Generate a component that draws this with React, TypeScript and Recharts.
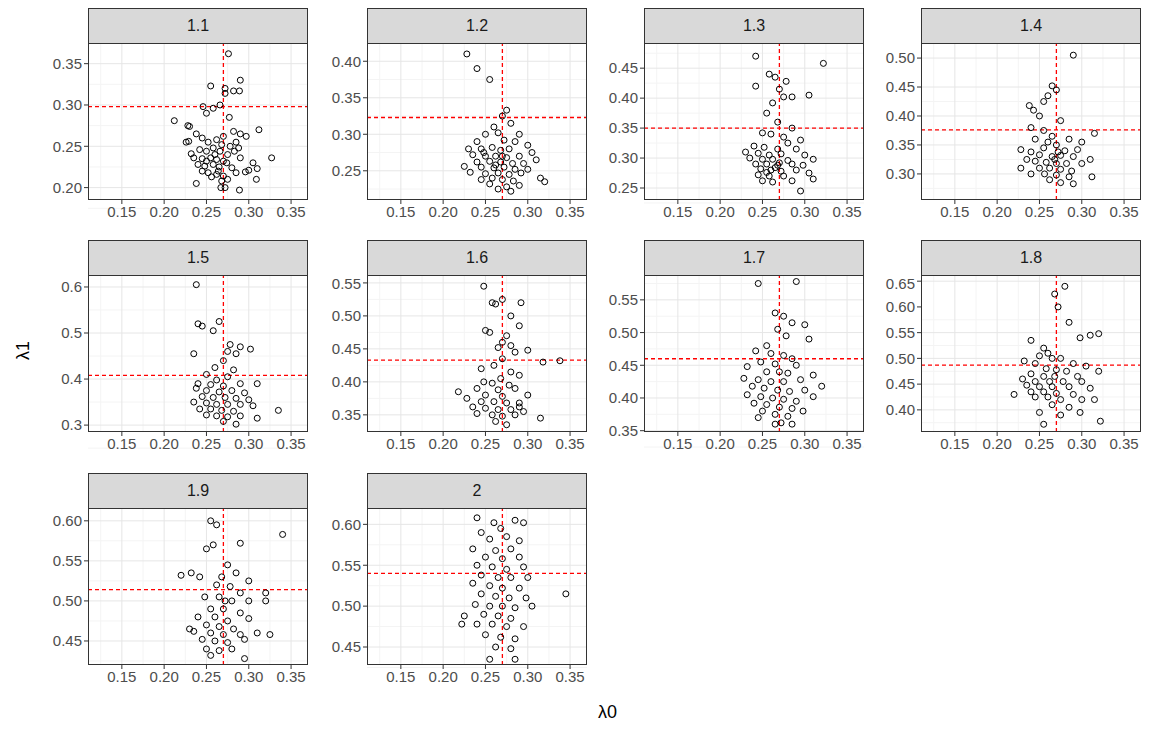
import { ScatterChart, Scatter, XAxis, YAxis, CartesianGrid, ReferenceLine } from "recharts";

type Pt = [number, number];

const facetLabels = ["1.1", "1.2", "1.3", "1.4", "1.5", "1.6", "1.7", "1.8", "1.9", "2"];
const xTicks = [0.15, 0.2, 0.25, 0.3, 0.35];
const xMinor = [0.125, 0.175, 0.225, 0.275, 0.325];
const trueX = 0.27;
const trueY = [0.298, 0.323, 0.35, 0.376, 0.408, 0.433, 0.46, 0.487, 0.514, 0.54];
const yDomains: [number, number][] = [
  [0.185, 0.375], [0.21, 0.425], [0.23, 0.492], [0.255, 0.526], [0.285, 0.626],
  [0.324, 0.562], [0.348, 0.588], [0.357, 0.662], [0.42, 0.616], [0.428, 0.62],
];
const yTicks: number[][] = [
  [0.2, 0.25, 0.3, 0.35], [0.25, 0.3, 0.35, 0.4], [0.25, 0.3, 0.35, 0.4, 0.45],
  [0.3, 0.35, 0.4, 0.45, 0.5], [0.3, 0.4, 0.5, 0.6], [0.35, 0.4, 0.45, 0.5, 0.55],
  [0.35, 0.4, 0.45, 0.5, 0.55], [0.4, 0.45, 0.5, 0.55, 0.6, 0.65],
  [0.45, 0.5, 0.55, 0.6], [0.45, 0.5, 0.55, 0.6],
];
const yDecimals = [2, 2, 2, 2, 1, 2, 2, 2, 2, 2];

const p11: Pt[] = [
  [0.276, 0.362], [0.255, 0.323], [0.272, 0.32], [0.29, 0.33], [0.282, 0.317], [0.289, 0.317], [0.272, 0.314],
  [0.246, 0.298], [0.258, 0.296], [0.266, 0.3], [0.25, 0.29], [0.277, 0.285], [0.212, 0.281], [0.228, 0.275],
  [0.23, 0.274], [0.238, 0.265], [0.245, 0.26], [0.282, 0.268], [0.29, 0.265], [0.297, 0.262], [0.312, 0.27],
  [0.226, 0.255], [0.229, 0.256], [0.252, 0.255], [0.262, 0.258], [0.27, 0.262], [0.285, 0.255], [0.278, 0.25],
  [0.288, 0.248], [0.232, 0.241], [0.242, 0.246], [0.25, 0.244], [0.258, 0.248], [0.266, 0.244], [0.275, 0.24],
  [0.283, 0.244], [0.245, 0.235], [0.255, 0.236], [0.262, 0.234], [0.27, 0.232], [0.29, 0.236], [0.327, 0.236],
  [0.24, 0.228], [0.248, 0.226], [0.258, 0.228], [0.265, 0.225], [0.274, 0.23], [0.28, 0.224], [0.305, 0.23],
  [0.31, 0.223], [0.252, 0.218], [0.262, 0.216], [0.27, 0.214], [0.285, 0.218], [0.296, 0.219], [0.3, 0.221],
  [0.245, 0.22], [0.256, 0.213], [0.268, 0.208], [0.275, 0.21], [0.238, 0.205], [0.309, 0.21], [0.267, 0.2],
  [0.272, 0.2], [0.289, 0.197], [0.26, 0.24], [0.268, 0.252], [0.235, 0.236], [0.25, 0.232], [0.264, 0.22],
];
const p12: Pt[] = [
  [0.228, 0.41], [0.24, 0.39], [0.255, 0.375], [0.275, 0.333], [0.27, 0.325], [0.28, 0.315], [0.26, 0.31],
  [0.25, 0.3], [0.265, 0.302], [0.29, 0.3], [0.24, 0.29], [0.272, 0.292], [0.285, 0.29], [0.3, 0.285],
  [0.23, 0.28], [0.245, 0.28], [0.258, 0.282], [0.268, 0.278], [0.278, 0.28], [0.305, 0.275], [0.235, 0.272],
  [0.25, 0.27], [0.262, 0.27], [0.275, 0.268], [0.29, 0.27], [0.31, 0.265], [0.24, 0.262], [0.255, 0.263],
  [0.268, 0.262], [0.282, 0.26], [0.295, 0.26], [0.225, 0.256], [0.245, 0.255], [0.26, 0.254], [0.272, 0.255],
  [0.285, 0.252], [0.3, 0.252], [0.232, 0.248], [0.25, 0.246], [0.265, 0.247], [0.278, 0.245], [0.292, 0.247],
  [0.315, 0.24], [0.245, 0.238], [0.258, 0.24], [0.27, 0.238], [0.283, 0.236], [0.32, 0.235], [0.255, 0.232],
  [0.275, 0.228], [0.29, 0.23], [0.265, 0.225], [0.28, 0.222], [0.262, 0.258], [0.27, 0.27], [0.248, 0.275],
];
const p13: Pt[] = [
  [0.242, 0.47], [0.322, 0.458], [0.258, 0.44], [0.265, 0.435], [0.242, 0.42], [0.278, 0.428], [0.27, 0.415],
  [0.275, 0.402], [0.285, 0.402], [0.305, 0.405], [0.262, 0.392], [0.255, 0.375], [0.268, 0.36], [0.285, 0.35],
  [0.25, 0.342], [0.26, 0.34], [0.275, 0.335], [0.28, 0.325], [0.295, 0.33], [0.24, 0.32], [0.252, 0.318],
  [0.268, 0.315], [0.29, 0.315], [0.23, 0.31], [0.245, 0.308], [0.258, 0.305], [0.272, 0.307], [0.3, 0.305],
  [0.235, 0.3], [0.25, 0.298], [0.262, 0.298], [0.28, 0.296], [0.31, 0.298], [0.242, 0.29], [0.255, 0.29],
  [0.268, 0.288], [0.285, 0.29], [0.298, 0.288], [0.248, 0.282], [0.26, 0.28], [0.272, 0.278], [0.29, 0.28],
  [0.305, 0.275], [0.245, 0.272], [0.258, 0.27], [0.275, 0.27], [0.31, 0.265], [0.25, 0.262], [0.262, 0.26],
  [0.285, 0.262], [0.295, 0.245], [0.265, 0.284], [0.27, 0.292], [0.255, 0.276],
];
const p14: Pt[] = [
  [0.29, 0.505], [0.265, 0.452], [0.27, 0.445], [0.26, 0.435], [0.255, 0.425], [0.238, 0.418], [0.243, 0.41],
  [0.25, 0.4], [0.275, 0.392], [0.24, 0.38], [0.255, 0.375], [0.315, 0.37], [0.265, 0.365], [0.285, 0.36],
  [0.3, 0.355], [0.245, 0.36], [0.26, 0.355], [0.27, 0.35], [0.255, 0.345], [0.228, 0.342], [0.24, 0.338],
  [0.28, 0.34], [0.295, 0.342], [0.25, 0.333], [0.265, 0.33], [0.275, 0.332], [0.29, 0.33], [0.31, 0.325],
  [0.235, 0.325], [0.245, 0.322], [0.258, 0.32], [0.27, 0.318], [0.282, 0.318], [0.3, 0.318], [0.228, 0.31],
  [0.25, 0.31], [0.262, 0.31], [0.275, 0.308], [0.288, 0.305], [0.24, 0.3], [0.256, 0.3], [0.27, 0.298],
  [0.285, 0.295], [0.312, 0.295], [0.262, 0.29], [0.275, 0.285], [0.29, 0.283], [0.268, 0.325], [0.272, 0.338],
];
const p15: Pt[] = [
  [0.238, 0.605], [0.265, 0.525], [0.245, 0.515], [0.24, 0.52], [0.258, 0.505], [0.278, 0.475], [0.29, 0.47],
  [0.302, 0.465], [0.275, 0.46], [0.285, 0.455], [0.235, 0.455], [0.27, 0.44], [0.26, 0.425], [0.282, 0.42],
  [0.25, 0.41], [0.275, 0.405], [0.262, 0.398], [0.24, 0.39], [0.255, 0.388], [0.27, 0.385], [0.29, 0.39],
  [0.31, 0.39], [0.238, 0.38], [0.25, 0.375], [0.265, 0.372], [0.28, 0.375], [0.295, 0.37], [0.245, 0.362],
  [0.258, 0.36], [0.272, 0.36], [0.285, 0.358], [0.3, 0.355], [0.235, 0.35], [0.25, 0.348], [0.262, 0.345],
  [0.275, 0.345], [0.29, 0.345], [0.305, 0.342], [0.242, 0.335], [0.255, 0.335], [0.268, 0.332], [0.282, 0.33],
  [0.335, 0.332], [0.25, 0.322], [0.262, 0.32], [0.275, 0.318], [0.29, 0.32], [0.31, 0.315], [0.27, 0.308],
  [0.285, 0.302],
];
const p16: Pt[] = [
  [0.248, 0.545], [0.27, 0.525], [0.262, 0.518], [0.258, 0.52], [0.292, 0.52], [0.28, 0.5], [0.29, 0.485],
  [0.25, 0.478], [0.255, 0.475], [0.275, 0.47], [0.27, 0.46], [0.28, 0.455], [0.265, 0.452], [0.285, 0.445],
  [0.3, 0.448], [0.27, 0.435], [0.318, 0.43], [0.338, 0.432], [0.26, 0.425], [0.245, 0.42], [0.28, 0.415],
  [0.268, 0.405], [0.29, 0.41], [0.248, 0.4], [0.258, 0.398], [0.278, 0.395], [0.24, 0.39], [0.265, 0.388],
  [0.285, 0.39], [0.218, 0.385], [0.25, 0.38], [0.27, 0.378], [0.3, 0.38], [0.228, 0.375], [0.245, 0.37],
  [0.26, 0.37], [0.275, 0.368], [0.29, 0.368], [0.235, 0.362], [0.25, 0.36], [0.265, 0.358], [0.28, 0.358],
  [0.295, 0.355], [0.24, 0.352], [0.258, 0.35], [0.27, 0.348], [0.285, 0.35], [0.315, 0.345], [0.262, 0.34],
  [0.275, 0.335], [0.29, 0.362],
];
const p17: Pt[] = [
  [0.245, 0.575], [0.29, 0.578], [0.275, 0.525], [0.265, 0.53], [0.285, 0.515], [0.3, 0.512], [0.268, 0.505],
  [0.278, 0.495], [0.305, 0.49], [0.255, 0.48], [0.242, 0.472], [0.26, 0.468], [0.275, 0.465], [0.285, 0.46],
  [0.248, 0.455], [0.265, 0.452], [0.29, 0.45], [0.232, 0.448], [0.255, 0.44], [0.27, 0.44], [0.28, 0.438],
  [0.31, 0.435], [0.228, 0.43], [0.245, 0.428], [0.26, 0.425], [0.275, 0.425], [0.295, 0.428], [0.32, 0.418],
  [0.238, 0.418], [0.252, 0.415], [0.268, 0.412], [0.282, 0.41], [0.3, 0.412], [0.232, 0.405], [0.248, 0.402],
  [0.262, 0.4], [0.275, 0.398], [0.29, 0.395], [0.31, 0.402], [0.24, 0.392], [0.255, 0.39], [0.27, 0.386],
  [0.285, 0.384], [0.298, 0.38], [0.25, 0.38], [0.265, 0.375], [0.28, 0.372], [0.245, 0.37], [0.272, 0.362],
  [0.285, 0.36], [0.265, 0.36],
];
const p18: Pt[] = [
  [0.28, 0.64], [0.268, 0.625], [0.272, 0.6], [0.285, 0.57], [0.31, 0.545], [0.32, 0.548], [0.24, 0.535],
  [0.298, 0.54], [0.255, 0.52], [0.26, 0.51], [0.25, 0.505], [0.265, 0.5], [0.275, 0.5], [0.245, 0.49],
  [0.232, 0.495], [0.29, 0.49], [0.305, 0.485], [0.258, 0.48], [0.27, 0.478], [0.282, 0.475], [0.32, 0.475],
  [0.24, 0.47], [0.255, 0.465], [0.268, 0.465], [0.295, 0.465], [0.23, 0.46], [0.245, 0.455], [0.262, 0.455],
  [0.278, 0.455], [0.3, 0.455], [0.235, 0.448], [0.25, 0.445], [0.265, 0.445], [0.285, 0.445], [0.31, 0.442],
  [0.22, 0.43], [0.24, 0.435], [0.255, 0.435], [0.27, 0.432], [0.29, 0.43], [0.245, 0.425], [0.26, 0.425],
  [0.275, 0.42], [0.3, 0.42], [0.315, 0.42], [0.265, 0.41], [0.285, 0.405], [0.25, 0.395], [0.275, 0.39],
  [0.298, 0.395], [0.322, 0.378], [0.255, 0.372],
];
const p19: Pt[] = [
  [0.255, 0.6], [0.262, 0.595], [0.34, 0.583], [0.258, 0.57], [0.25, 0.565], [0.29, 0.572], [0.275, 0.545],
  [0.232, 0.535], [0.22, 0.532], [0.242, 0.53], [0.268, 0.53], [0.285, 0.535], [0.3, 0.525], [0.262, 0.52],
  [0.278, 0.518], [0.29, 0.51], [0.32, 0.51], [0.248, 0.505], [0.265, 0.505], [0.28, 0.5], [0.3, 0.5],
  [0.32, 0.5], [0.255, 0.49], [0.27, 0.49], [0.29, 0.485], [0.24, 0.48], [0.26, 0.48], [0.275, 0.475],
  [0.3, 0.478], [0.25, 0.47], [0.265, 0.468], [0.282, 0.465], [0.23, 0.465], [0.235, 0.462], [0.255, 0.46],
  [0.27, 0.458], [0.29, 0.458], [0.31, 0.46], [0.325, 0.458], [0.245, 0.452], [0.26, 0.45], [0.275, 0.448],
  [0.295, 0.452], [0.25, 0.44], [0.265, 0.438], [0.28, 0.44], [0.255, 0.432], [0.295, 0.428], [0.272, 0.5],
];
const p20: Pt[] = [
  [0.24, 0.608], [0.26, 0.602], [0.285, 0.605], [0.295, 0.602], [0.268, 0.595], [0.245, 0.59], [0.255, 0.582],
  [0.275, 0.585], [0.29, 0.58], [0.235, 0.57], [0.262, 0.568], [0.28, 0.57], [0.25, 0.56], [0.27, 0.558],
  [0.29, 0.56], [0.24, 0.55], [0.258, 0.548], [0.275, 0.545], [0.295, 0.548], [0.245, 0.538], [0.265, 0.535],
  [0.28, 0.535], [0.3, 0.535], [0.235, 0.528], [0.255, 0.525], [0.27, 0.522], [0.29, 0.522], [0.245, 0.515],
  [0.262, 0.512], [0.278, 0.51], [0.298, 0.51], [0.345, 0.515], [0.238, 0.502], [0.255, 0.5], [0.27, 0.5],
  [0.285, 0.498], [0.305, 0.5], [0.225, 0.488], [0.248, 0.49], [0.265, 0.488], [0.28, 0.485], [0.222, 0.478],
  [0.24, 0.478], [0.258, 0.478], [0.275, 0.475], [0.295, 0.475], [0.25, 0.465], [0.268, 0.462], [0.285, 0.46],
  [0.262, 0.45], [0.28, 0.448], [0.255, 0.435], [0.285, 0.435],
];
const facetPoints: Pt[][] = [p11, p12, p13, p14, p15, p16, p17, p18, p19, p20];

const colLeft = [88, 367, 644, 921];
const rowTop = [43, 275, 508];
const plotW = 220;
const plotH = 157;
const stripH = 35;
const yAxisW = 50;
const font = "Liberation Sans, Arial, sans-serif";

const minorOf = (t: number[]) => {
  const step = t[1] - t[0];
  const out = [t[0] - step / 2];
  t.forEach((v) => out.push(v + step / 2));
  return out;
};

const ring = (p: any) => <circle cx={p.cx} cy={p.cy} r={3} fill="none" stroke="#000" strokeWidth={1} />;

function Facet({ i }: { i: number }) {
  const left = colLeft[i % 4];
  const top = rowTop[Math.floor(i / 4)];
  const data = facetPoints[i].map(([x, y]) => ({ x, y }));
  return (
    <>
      <div
        style={{
          position: "absolute", left, top: top - stripH, width: plotW, height: stripH,
          background: "#d9d9d9", border: "1px solid #333", borderBottom: "none", boxSizing: "border-box",
          display: "flex", alignItems: "center", justifyContent: "center",
          fontFamily: font, fontSize: 16, color: "#1a1a1a",
        }}
      >
        {facetLabels[i]}
      </div>
      <div style={{ position: "absolute", left: left - yAxisW, top }}>
        <ScatterChart width={yAxisW + plotW} height={plotH + 30} margin={{ top: 0, right: 0, bottom: 0, left: 0 }}>
          <CartesianGrid stroke="#f4f4f4" horizontalValues={minorOf(yTicks[i])} verticalValues={xMinor} />
          <CartesianGrid stroke="#e6e6e6" horizontalValues={yTicks[i]} verticalValues={xTicks} />
          <XAxis
            type="number" dataKey="x" domain={[0.11, 0.37]} ticks={xTicks} height={30}
            tickFormatter={(v) => v.toFixed(2)} axisLine={false}
            tick={{ fontSize: 15, fill: "#4d4d4d", fontFamily: font }} tickLine={{ stroke: "#333" }} tickSize={4}
            allowDataOverflow
          />
          <YAxis
            type="number" dataKey="y" domain={yDomains[i]} ticks={yTicks[i]} width={yAxisW}
            tickFormatter={(v) => v.toFixed(yDecimals[i])} axisLine={false}
            tick={{ fontSize: 15, fill: "#4d4d4d", fontFamily: font }} tickLine={{ stroke: "#333" }} tickSize={4}
            allowDataOverflow
          />
          <ReferenceLine x={trueX} stroke="#ff0000" strokeWidth={1.3} strokeDasharray="4 3" />
          <ReferenceLine y={trueY[i]} stroke="#ff0000" strokeWidth={1.3} strokeDasharray="4 3" />
          <Scatter data={data} shape={ring} isAnimationActive={false} />
        </ScatterChart>
      </div>
      <div
        style={{
          position: "absolute", left, top, width: plotW, height: plotH,
          border: "1px solid #333", boxSizing: "border-box", pointerEvents: "none",
        }}
      />
    </>
  );
}

export default function App() {
  return (
    <div style={{ position: "absolute", left: 0, top: 0, width: 1156, height: 731, background: "#fff", fontFamily: font }}>
      {facetLabels.map((_, i) => (
        <Facet key={i} i={i} />
      ))}
      <div style={{ position: "absolute", left: 14, top: 340, transform: "rotate(-90deg)", fontSize: 18, color: "#000" }}>λ1</div>
      <div style={{ position: "absolute", left: 598, top: 702, fontSize: 18, color: "#000" }}>λ0</div>
    </div>
  );
}
